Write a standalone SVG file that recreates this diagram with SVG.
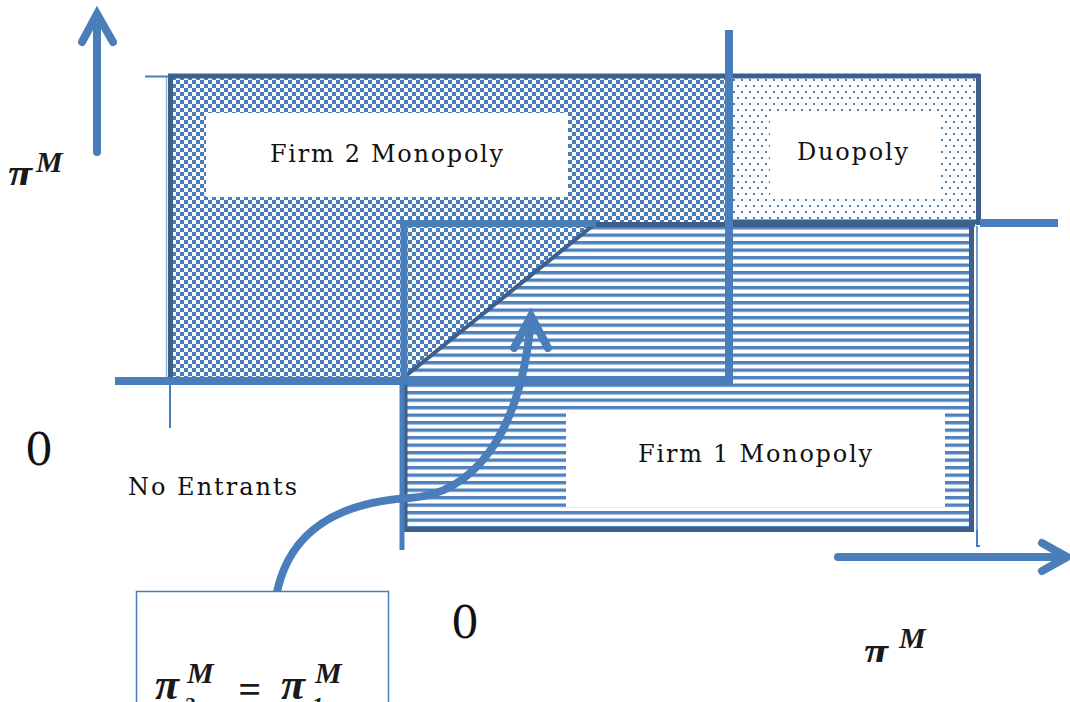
<svg xmlns="http://www.w3.org/2000/svg" width="1070" height="702" viewBox="0 0 1070 702">
<style>
.lbl{font-family:"DejaVu Serif","Liberation Serif",serif;font-size:24px;fill:#111}
.zero{font-family:"DejaVu Serif","Liberation Serif",serif;font-size:44px;fill:#111}
.math{font-family:"Liberation Serif","DejaVu Serif",serif;font-weight:bold;font-style:italic;fill:#1a1a1a}
.dark{stroke:#3c5f8c;fill:none;stroke-linecap:butt}
.blue{stroke:#4a7ebb;fill:none;stroke-linecap:butt}
.arrow{stroke:#4a7ebb;fill:none;stroke-width:8;stroke-linecap:round;stroke-linejoin:miter}
.wbox{fill:#fff}
</style>
<defs>
<pattern id="checker" width="8" height="8" patternUnits="userSpaceOnUse">
<rect width="8" height="8" fill="#fff"/>
<rect width="4" height="4" fill="#4a7ebb"/>
<rect x="4" y="4" width="4" height="4" fill="#4a7ebb"/>
</pattern>
<pattern id="dots" width="8" height="12" patternUnits="userSpaceOnUse">
<rect width="8" height="12" fill="#fff"/>
<rect x="1" y="1" width="2" height="2" fill="#4a7ebb"/>
<rect x="5" y="7" width="2" height="2" fill="#4a7ebb"/>
</pattern>
<pattern id="stripes" width="8" height="7.5" patternUnits="userSpaceOnUse" y="1">
<rect width="8" height="7.5" fill="#fff"/>
<rect width="8" height="3.4" fill="#4f81bd"/>
</pattern>
<clipPath id="clipTop"><rect x="0" y="140" width="120" height="45"/></clipPath>
<clipPath id="clipBR"><rect x="850" y="610" width="120" height="52"/></clipPath>
</defs>

<g id="firm2-monopoly">
<rect x="170" y="76" width="558" height="304" fill="url(#checker)"/>
<rect class="wbox" x="206" y="113" width="362" height="84"/>
<text class="lbl" x="270" y="162" textLength="233">Firm 2 Monopoly</text>
</g>

<g id="duopoly">
<rect x="733" y="78" width="244" height="143" fill="url(#dots)"/>
<rect class="wbox" x="770" y="113" width="170" height="83"/>
<text class="lbl" x="797" y="160" textLength="111">Duopoly</text>
</g>

<g id="firm1-monopoly">
<polygon points="403,380 595,224 972,224 972,529 403,529" fill="url(#stripes)"/>
<rect class="wbox" x="566" y="413" width="379" height="94"/>
<text class="lbl" x="638" y="462" textLength="234">Firm 1 Monopoly</text>
</g>

<g id="borders">
<line class="dark" x1="168" y1="76" x2="980" y2="76" stroke-width="5"/>
<line class="dark" x1="170.5" y1="74" x2="170.5" y2="380" stroke-width="5"/>
<line class="blue" x1="166.5" y1="76" x2="166.5" y2="380" stroke-width="1.5" opacity="0.6"/>
<line class="dark" x1="978.5" y1="74" x2="978.5" y2="225" stroke-width="5"/>
<line class="dark" x1="731" y1="222" x2="980" y2="222" stroke-width="5"/>
<line class="dark" x1="593" y1="224.5" x2="975" y2="224.5" stroke-width="5"/>
<line class="dark" x1="971.5" y1="222" x2="971.5" y2="531.5" stroke-width="5"/>
<line class="dark" x1="403" y1="529.5" x2="974" y2="529.5" stroke-width="5"/>
<line class="dark" x1="405" y1="380" x2="405" y2="532" stroke-width="5"/>
<line class="dark" x1="403" y1="378" x2="596" y2="223" stroke-width="4"/>
</g>

<g id="lines">
<line class="blue" x1="115" y1="381" x2="733" y2="381" stroke-width="8"/>
<line class="blue" x1="729" y1="30" x2="729" y2="384" stroke-width="8"/>
<line class="blue" x1="404" y1="220" x2="404" y2="380" stroke-width="7"/>
<line class="blue" x1="400" y1="223.5" x2="596" y2="223.5" stroke-width="7"/>
<line class="blue" x1="402" y1="380" x2="402" y2="550" stroke-width="5"/>
<line class="blue" x1="980" y1="223" x2="1058" y2="223" stroke-width="8"/>
<line class="blue" x1="145" y1="76.5" x2="168" y2="76.5" stroke-width="2"/>
<line class="blue" x1="170" y1="380" x2="170" y2="428" stroke-width="2"/>
<polyline class="blue" points="976,531 977,531 977,546 980,546" stroke-width="2"/>
<line class="blue" x1="977" y1="226" x2="977" y2="531" stroke-width="1.5"/>
</g>

<g id="connectors">
<line class="arrow" x1="97" y1="152" x2="97" y2="16"/>
<polyline class="arrow" points="82,42 97,14 113,42"/>
<line class="arrow" x1="838" y1="557" x2="1064" y2="557" stroke-linecap="butt"/>
<polyline class="arrow" points="1042,543 1067,557 1042,571"/>
<path class="arrow" d="M277,592 C290,530 340,502 410,498 C470,494 520,440 531,320" stroke-linecap="butt"/>
<polyline class="arrow" points="514,348 531,316 548,348"/>
</g>

<g id="no-entrants">
<text class="lbl" x="128" y="495" textLength="169">No Entrants</text>
</g>

<g id="zeros">
<text class="zero" x="25" y="465">0</text>
<text class="zero" x="451" y="638">0</text>
</g>

<g id="axis-label-y" clip-path="url(#clipTop)">
<text class="math" x="8" y="188" font-size="44">π</text>
<text class="math" x="36" y="172" font-size="30">M</text>
<text class="math" x="36" y="200" font-size="22">2</text>
</g>

<g id="axis-label-x" clip-path="url(#clipBR)">
<text class="math" x="864" y="666" font-size="44">π</text>
<text class="math" x="899" y="648" font-size="30">M</text>
<text class="math" x="896" y="678" font-size="22">1</text>
</g>

<g id="equal-box">
<rect x="136.5" y="591.5" width="252" height="130" fill="#fff" stroke="#4a7ebb" stroke-width="1.5"/>
<text class="math" x="155" y="699" font-size="44">π</text>
<text class="math" x="187" y="683" font-size="30">M</text>
<text class="math" x="184" y="712" font-size="22">2</text>
<text class="math" x="238" y="703" font-size="40" font-style="normal" font-weight="normal">=</text>
<text class="math" x="281" y="699" font-size="44">π</text>
<text class="math" x="315" y="683" font-size="30">M</text>
<text class="math" x="312" y="712" font-size="22">1</text>
</g>
</svg>
